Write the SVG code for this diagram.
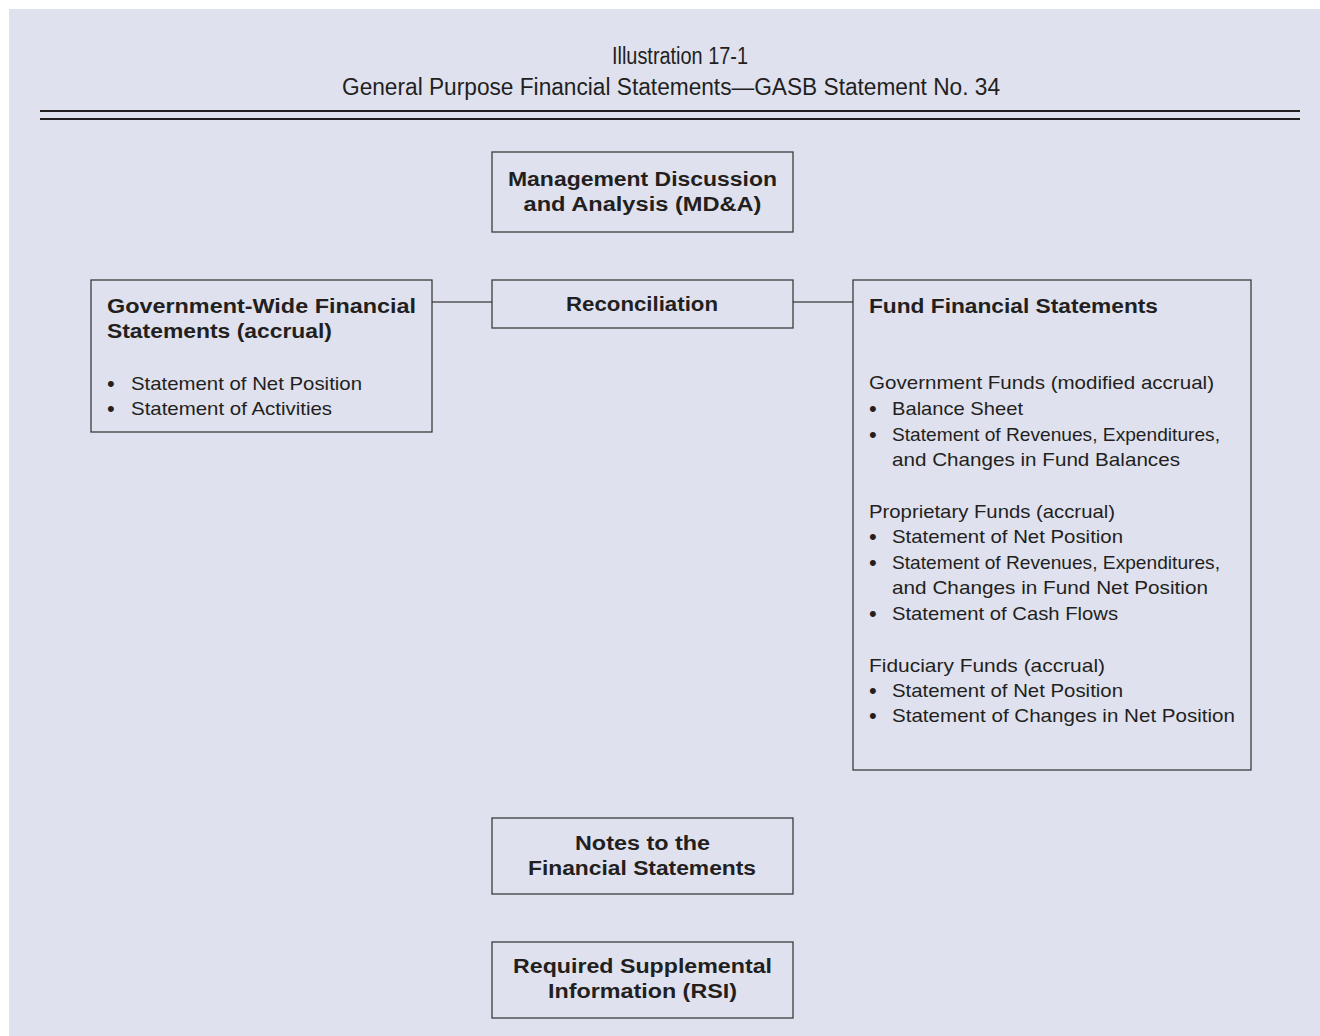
<svg xmlns="http://www.w3.org/2000/svg" width="1320" height="1036" viewBox="0 0 1320 1036">
  <style>
    .bg{fill:#dfe1ee}
    .box{fill:none;stroke:#3c3c3c;stroke-width:1.3}
    .rule{stroke:#231f20;stroke-width:2.2}
    .conn{stroke:#555;stroke-width:1.3;fill:none}
    .title{font-family:"Liberation Sans",Arial,sans-serif;font-size:23px;fill:#231f20}
    .h{font-family:"Liberation Sans",Arial,sans-serif;font-weight:bold;font-size:20px;fill:#231f20}
    .hc{font-family:"Liberation Sans",Arial,sans-serif;font-weight:bold;font-size:20px;fill:#231f20;text-anchor:middle}
    .t{font-family:"Liberation Sans",Arial,sans-serif;font-size:19px;fill:#231f20}
    .b{font-family:"Liberation Sans",Arial,sans-serif;font-size:22px;fill:#231f20}
  </style>

  <!-- page background -->
  <rect class="bg" x="9" y="9" width="1311" height="1027"/>

  <!-- heading -->
  <g id="heading">
    <text class="title" x="680" y="64" text-anchor="middle" textLength="136" lengthAdjust="spacingAndGlyphs">Illustration 17-1</text>
    <text class="title" x="671" y="95" text-anchor="middle" textLength="658" lengthAdjust="spacingAndGlyphs">General Purpose Financial Statements—GASB Statement No. 34</text>
    <line class="rule" x1="40" y1="111" x2="1300" y2="111"/>
    <line class="rule" x1="40" y1="119" x2="1300" y2="119"/>
  </g>

  <!-- connectors -->
  <g id="connectors">
    <line class="conn" x1="432" y1="302" x2="492" y2="302"/>
    <line class="conn" x1="793" y1="302" x2="853" y2="302"/>
  </g>

  <!-- Management Discussion and Analysis -->
  <g id="mdna">
    <rect class="box" x="492" y="152" width="301" height="80"/>
    <text class="hc" x="642.5" y="186" textLength="269" lengthAdjust="spacingAndGlyphs">Management Discussion</text>
    <text class="hc" x="642.5" y="211" textLength="238" lengthAdjust="spacingAndGlyphs">and Analysis (MD&amp;A)</text>
  </g>

  <!-- Reconciliation -->
  <g id="reconciliation">
    <rect class="box" x="492" y="280" width="301" height="48"/>
    <text class="hc" x="642" y="311" textLength="152" lengthAdjust="spacingAndGlyphs">Reconciliation</text>
  </g>

  <!-- Government-wide statements -->
  <g id="government-wide">
    <rect class="box" x="91" y="280" width="341" height="152"/>
    <text class="h" x="107" y="313" textLength="309" lengthAdjust="spacingAndGlyphs">Government-Wide Financial</text>
    <text class="h" x="107" y="338" textLength="225" lengthAdjust="spacingAndGlyphs">Statements (accrual)</text>
    <text class="b" x="107" y="391">•</text>
    <text class="t" x="131" y="390" textLength="231" lengthAdjust="spacingAndGlyphs">Statement of Net Position</text>
    <text class="b" x="107" y="416">•</text>
    <text class="t" x="131" y="415" textLength="201" lengthAdjust="spacingAndGlyphs">Statement of Activities</text>
  </g>

  <!-- Fund financial statements -->
  <g id="fund-statements">
    <rect class="box" x="853" y="280" width="398" height="490"/>
    <text class="h" x="869" y="313" textLength="289" lengthAdjust="spacingAndGlyphs">Fund Financial Statements</text>

    <text class="t" x="869" y="389" textLength="345" lengthAdjust="spacingAndGlyphs">Government Funds (modified accrual)</text>
    <text class="b" x="869" y="416">•</text>
    <text class="t" x="892" y="415" textLength="131" lengthAdjust="spacingAndGlyphs">Balance Sheet</text>
    <text class="b" x="869" y="442">•</text>
    <text class="t" x="892" y="441" textLength="328" lengthAdjust="spacingAndGlyphs">Statement of Revenues, Expenditures,</text>
    <text class="t" x="892" y="466" textLength="288" lengthAdjust="spacingAndGlyphs">and Changes in Fund Balances</text>

    <text class="t" x="869" y="518" textLength="246" lengthAdjust="spacingAndGlyphs">Proprietary Funds (accrual)</text>
    <text class="b" x="869" y="544">•</text>
    <text class="t" x="892" y="543" textLength="231" lengthAdjust="spacingAndGlyphs">Statement of Net Position</text>
    <text class="b" x="869" y="570">•</text>
    <text class="t" x="892" y="569" textLength="328" lengthAdjust="spacingAndGlyphs">Statement of Revenues, Expenditures,</text>
    <text class="t" x="892" y="594" textLength="316" lengthAdjust="spacingAndGlyphs">and Changes in Fund Net Position</text>
    <text class="b" x="869" y="621">•</text>
    <text class="t" x="892" y="620" textLength="226" lengthAdjust="spacingAndGlyphs">Statement of Cash Flows</text>

    <text class="t" x="869" y="672" textLength="236" lengthAdjust="spacingAndGlyphs">Fiduciary Funds (accrual)</text>
    <text class="b" x="869" y="698">•</text>
    <text class="t" x="892" y="697" textLength="231" lengthAdjust="spacingAndGlyphs">Statement of Net Position</text>
    <text class="b" x="869" y="723">•</text>
    <text class="t" x="892" y="722" textLength="343" lengthAdjust="spacingAndGlyphs">Statement of Changes in Net Position</text>
  </g>

  <!-- Notes -->
  <g id="notes">
    <rect class="box" x="492" y="818" width="301" height="76"/>
    <text class="hc" x="642.5" y="850" textLength="135" lengthAdjust="spacingAndGlyphs">Notes to the</text>
    <text class="hc" x="642" y="875" textLength="228" lengthAdjust="spacingAndGlyphs">Financial Statements</text>
  </g>

  <!-- Required supplemental information -->
  <g id="rsi">
    <rect class="box" x="492" y="942" width="301" height="76"/>
    <text class="hc" x="642.5" y="973" textLength="259" lengthAdjust="spacingAndGlyphs">Required Supplemental</text>
    <text class="hc" x="642.5" y="998" textLength="189" lengthAdjust="spacingAndGlyphs">Information (RSI)</text>
  </g>
</svg>
